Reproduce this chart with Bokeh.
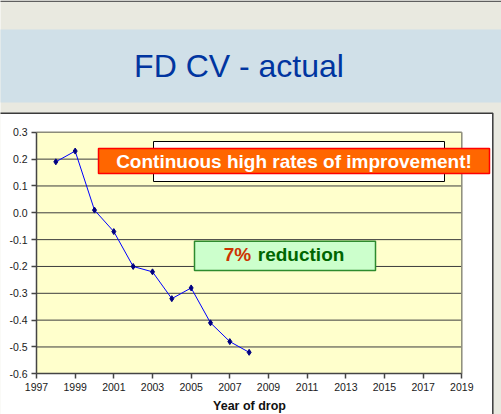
from bokeh.plotting import figure
from bokeh.models import Range1d, FixedTicker, PrintfTickFormatter, Label
from bokeh.embed import file_html
from bokeh.resources import INLINE

# ---------------- data ----------------
years = [1998, 1999, 2000, 2001, 2002, 2003, 2004, 2005, 2006, 2007, 2008]
fd_cv = [0.19, 0.23, 0.01, -0.07, -0.20, -0.22, -0.32, -0.28, -0.41, -0.48, -0.52]
x_ticks = [1997, 1999, 2001, 2003, 2005, 2007, 2009, 2011, 2013, 2015, 2017, 2019]
y_ticks = [-0.6, -0.5, -0.4, -0.3, -0.2, -0.1, 0.0, 0.1, 0.2, 0.3]
title_text = "FD CV - actual"
x_label = "Year of drop"
callout_1 = "Continuous high rates of improvement!"
callout_2_pct = "7%"
callout_2_rest = "reduction"

# ---------------- layout helpers (page pixel -> data) ----------------
FW, FH = 501, 414
X_MIN, X_MAX = x_ticks[0], x_ticks[-1]
Y_MIN, Y_MAX = y_ticks[0], y_ticks[-1]
PX_XMIN, PX_XMAX = 36.0, 461.3
PX_YMIN, PX_YMAX = 373.3, 131.8


def dx(px):
    return X_MIN + (px - PX_XMIN) * (X_MAX - X_MIN) / (PX_XMAX - PX_XMIN)


def dy(py):
    return Y_MIN + (PX_YMIN - py) * (Y_MAX - Y_MIN) / (PX_YMIN - PX_YMAX)


FONT = "Liberation Sans"

p = figure(width=FW, height=FH,
           x_range=Range1d(dx(0), dx(FW)),
           y_range=Range1d(dy(FH), dy(0)),
           toolbar_location=None, output_backend="svg", min_border=0)
p.outline_line_color = None
p.background_fill_color = "#E9E9E0"
p.border_fill_color = "#E9E9E0"
p.grid.visible = False

# top rule of the slide
p.segment(x0=[dx(-20)], x1=[dx(520)], y0=[dy(0.8)], y1=[dy(0.8)],
          line_color="#5F5F5F", line_width=1.6)
# title band
p.quad(left=dx(-20), right=dx(520), top=dy(29), bottom=dy(102),
       fill_color="#D0E0E8", line_color=None)
# white chart area
p.quad(left=dx(-20), right=dx(492.3), top=dy(112.8), bottom=dy(440),
       fill_color="white", line_color="#3A3A3A", line_width=1.5)
# plot area
p.quad(left=X_MIN, right=X_MAX, top=Y_MAX, bottom=Y_MIN,
       fill_color="#FFFFCC", line_color=None)
# grid lines
inner = [t for t in y_ticks if Y_MIN < t < Y_MAX]
p.segment(x0=[X_MIN] * len(inner), x1=[X_MAX] * len(inner), y0=inner, y1=inner,
          line_color="#3C3C3C", line_width=1)
# plot area top/right border
p.segment(x0=[X_MIN, X_MAX], x1=[X_MAX, X_MAX], y0=[Y_MAX, Y_MIN], y1=[Y_MAX, Y_MAX],
          line_color="#8C8C7A", line_width=1.5)

# data
p.line(years, fd_cv, line_color="#0000FF", line_width=1)
p.scatter(years, fd_cv, marker="diamond", size=6, fill_color="#000080",
          line_color="#000080")

# axes
for ax in (p.xaxis[0], p.yaxis[0]):
    ax.axis_line_color = "#444444"
    ax.axis_line_width = 1.5
    ax.major_tick_line_color = "#444444"
    ax.major_tick_line_width = 1.5
    ax.major_tick_in = 0
    ax.major_tick_out = 5
    ax.minor_tick_line_color = None
    ax.major_label_text_font = FONT
    ax.major_label_text_font_size = "10.5px"
    ax.major_label_text_color = "#1A1A1A"
    ax.major_label_standoff = 4

p.xaxis[0].fixed_location = Y_MIN
p.xaxis[0].bounds = (X_MIN, X_MAX)
p.xaxis[0].ticker = FixedTicker(ticks=x_ticks)
p.xaxis[0].formatter = PrintfTickFormatter(format="%d")

p.yaxis[0].fixed_location = X_MIN
p.yaxis[0].bounds = (Y_MIN, Y_MAX)
p.yaxis[0].ticker = FixedTicker(ticks=y_ticks)
p.yaxis[0].formatter = PrintfTickFormatter(format="%.1f")

# callout boxes
p.quad(left=dx(153), right=dx(444), top=dy(141), bottom=dy(181),
       fill_color="white", line_color="black", line_width=1)
p.quad(left=dx(98), right=dx(489), top=dy(148), bottom=dy(173),
       fill_color="#FF6600", line_color="#FF0000", line_width=1.5)
p.quad(left=dx(194), right=dx(375), top=dy(240.7), bottom=dy(270),
       fill_color="#CCFFCC", line_color="#2E8B2E", line_width=1.5)

# texts
p.add_layout(Label(x=dx(238.5), y=dy(65.5), text=title_text, text_align="center",
                   text_baseline="middle", text_font=FONT,
                   text_font_size="32px", text_color="#0035A0"))
p.add_layout(Label(x=dx(293.5), y=dy(161), text=callout_1, text_align="center",
                   text_baseline="middle", text_font=FONT, text_font_style="bold",
                   text_font_size="19px", text_color="white"))
p.add_layout(Label(x=dx(250.7), y=dy(254), text=callout_2_pct, text_align="right",
                   text_baseline="middle", text_font=FONT, text_font_style="bold",
                   text_font_size="19px", text_color="#CC3300"))
p.add_layout(Label(x=dx(257.3), y=dy(254), text=callout_2_rest, text_align="left",
                   text_baseline="middle", text_font=FONT, text_font_style="bold",
                   text_font_size="19px", text_color="#006600"))
p.add_layout(Label(x=dx(249), y=dy(405), text=x_label, text_align="center",
                   text_baseline="middle", text_font=FONT, text_font_style="bold",
                   text_font_size="12.5px", text_color="#111111"))

open("out.html", "w").write(file_html(p, INLINE))
